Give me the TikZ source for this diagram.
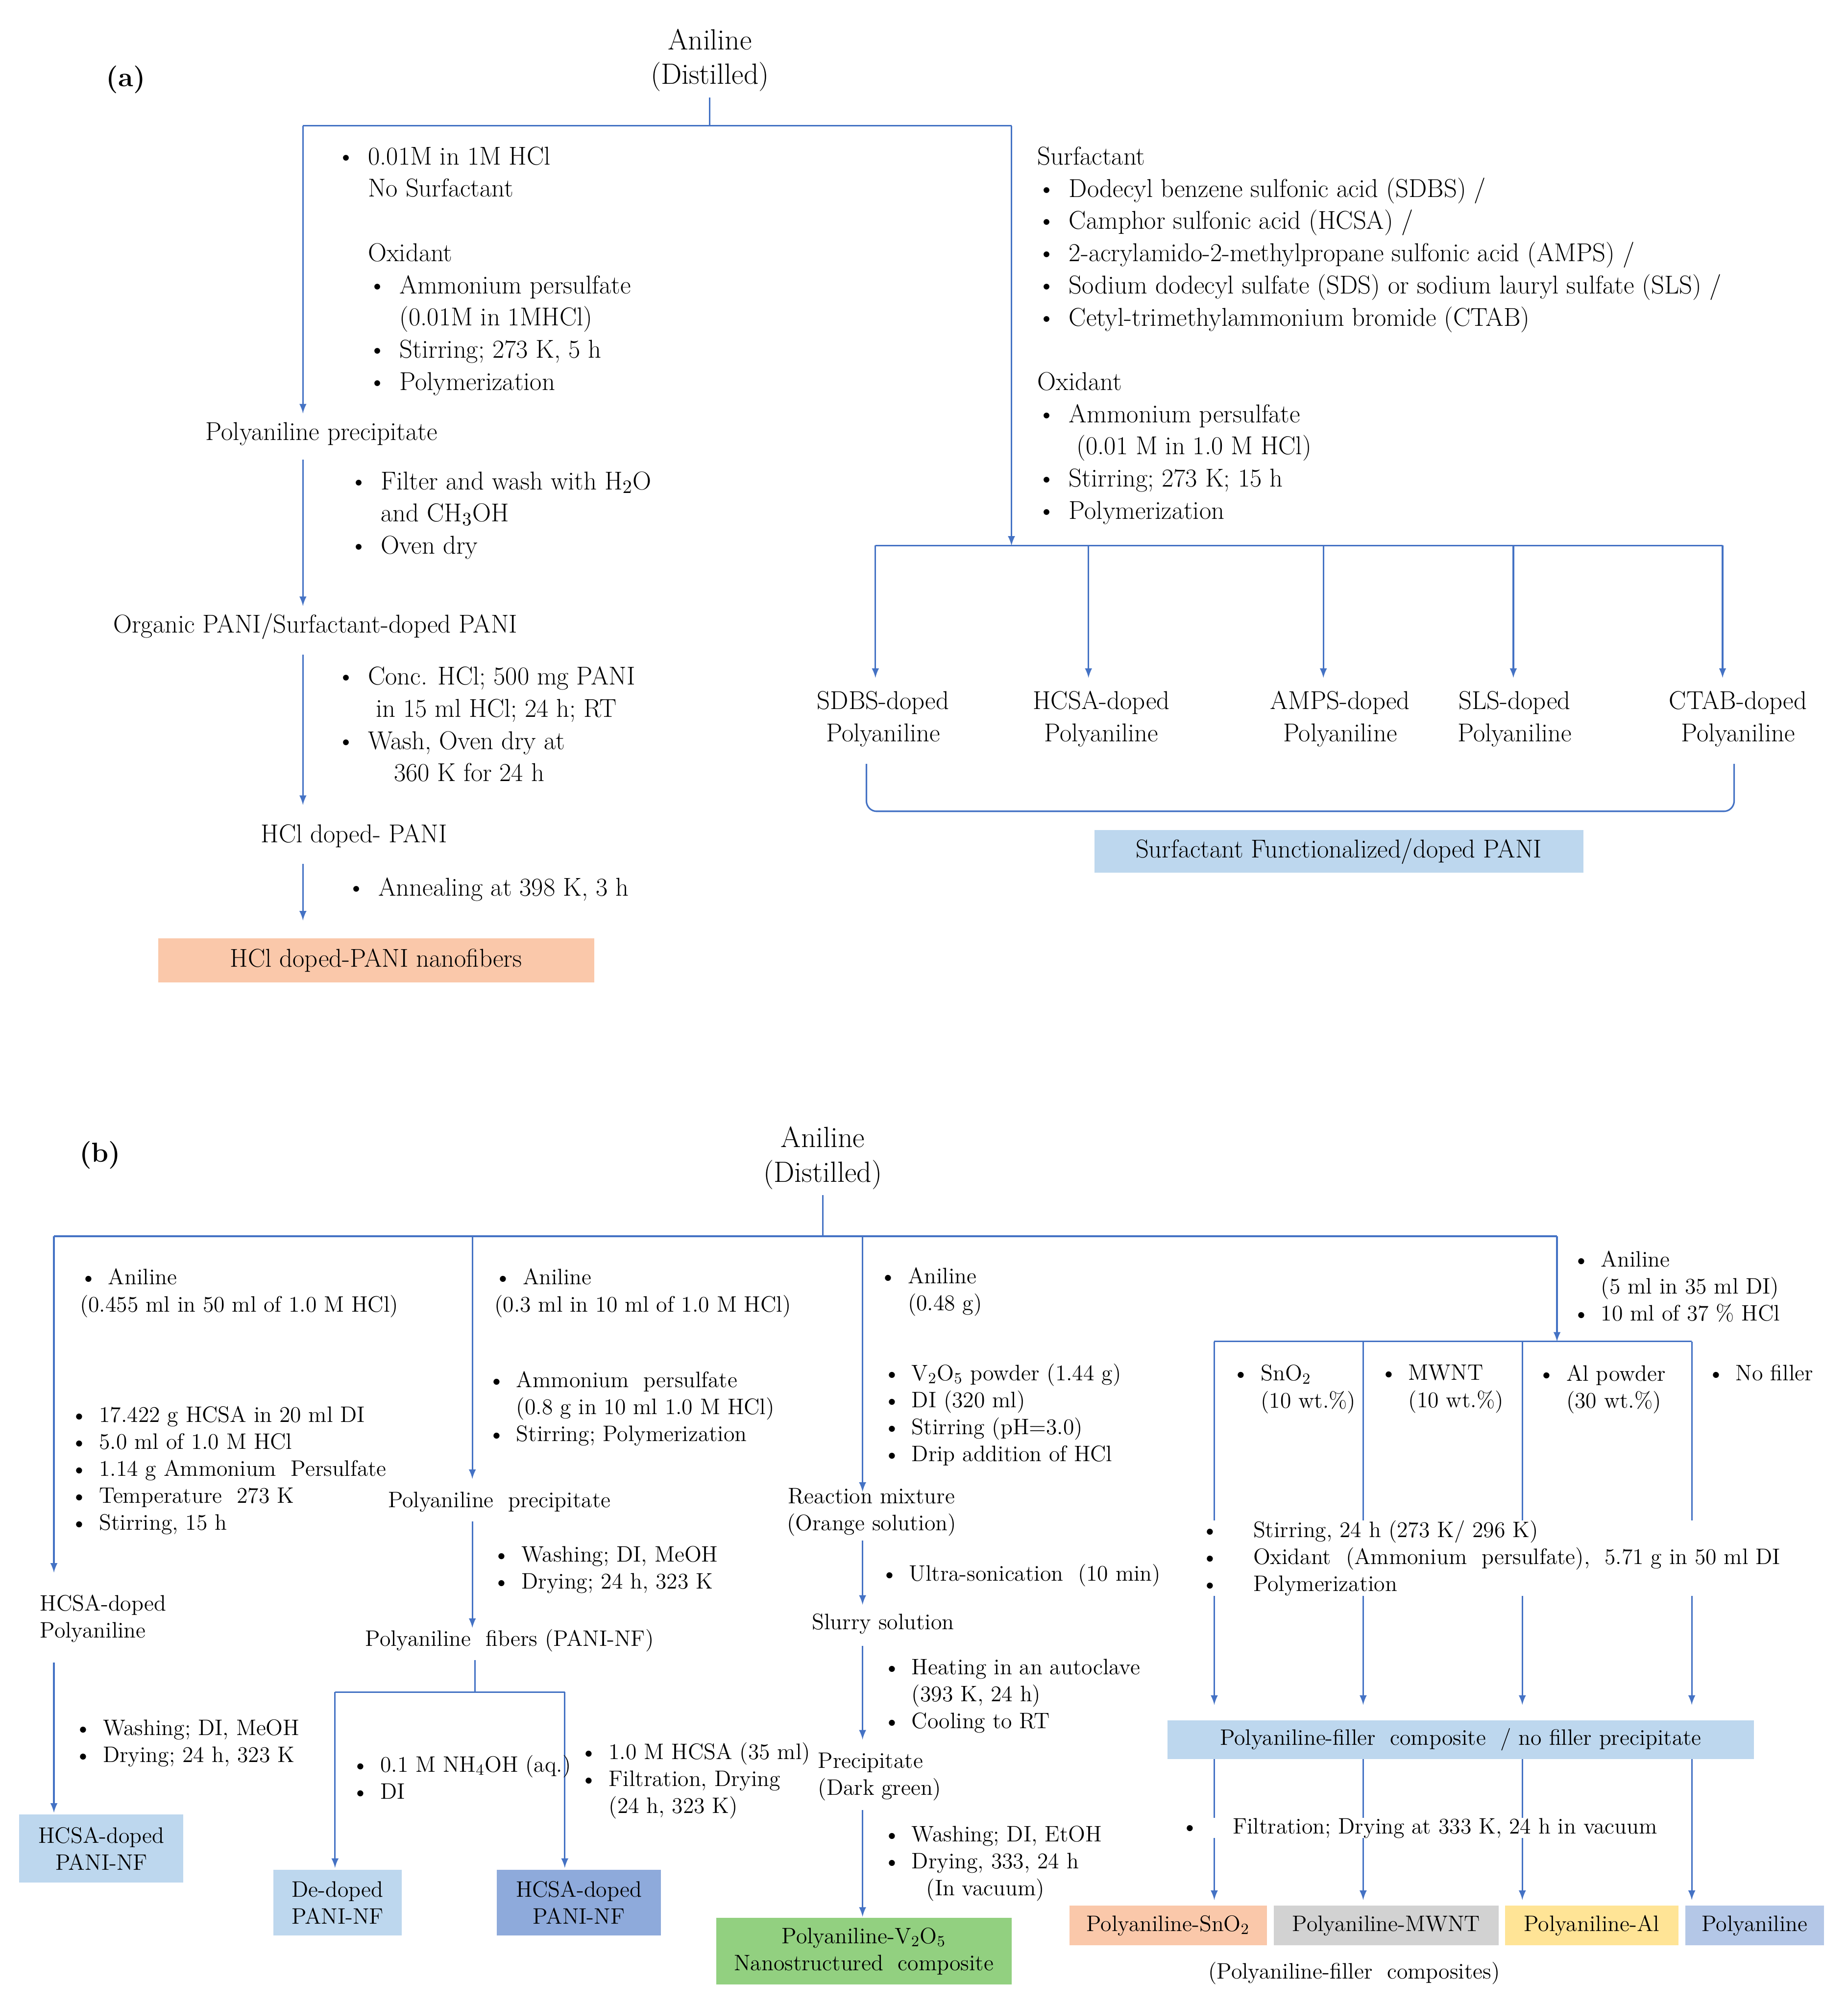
\documentclass[tikz,border=0pt]{standalone}
\usepackage{tikz}
\usetikzlibrary{positioning}
\definecolor{lnblue}{RGB}{68,114,196}
\definecolor{bxorange}{RGB}{250,200,170}
\definecolor{bxlblue}{RGB}{189,215,238}
\definecolor{bxmblue}{RGB}{142,170,219}
\definecolor{bxgreen}{RGB}{146,208,128}
\definecolor{bxgray}{RGB}{210,210,210}
\definecolor{bxyellow}{RGB}{255,228,150}
\definecolor{bxpblue}{RGB}{180,199,231}
\newcommand{\bl}{\textbullet\enspace}
\newcommand{\ind}{\hphantom{\textbullet\enspace}}
\tikzset{
  ln/.style={lnblue, line width=0.9pt},
  arr/.style={ln, -latex},
  ta/.style={anchor=north west, inner sep=0pt, align=left, font=\fontsize{15}{18.7}\selectfont},
  tb/.style={anchor=north west, inner sep=0pt, align=left, font=\fontsize{13}{15.7}\selectfont},
  box/.style={inner sep=0pt, align=center, font=\fontsize{13}{15.7}\selectfont},
}
\begin{document}
\begin{tikzpicture}[x=0.0262cm, y=-0.0262cm]
\useasboundingbox (0,0) rectangle (1439.7,1563.4);

% ---------------- (a)
\node[font=\bfseries\fontsize{16}{19}\selectfont] (laba) at (98,62) {(a)};
\node[align=center, font=\fontsize{17}{20}\selectfont] (anA) at (553,47) {Aniline\\(Distilled)};
\coordinate (jA) at (553,98);
\coordinate (jAl) at (236,98);
\coordinate (jAr) at (788,98);
\draw[ln] (anA.south) -- (jA);
\draw[ln] (jAl) -- (jAr);

\node[ta] (stepA1) at (262,114) {\bl 0.01M in 1M HCl\\
  \ind No Surfactant\\[18.7pt]
  \ind Oxidant\\
  \ind\bl Ammonium persulfate\\
  \ind\ind(0.01M in 1MHCl)\\
  \ind\bl Stirring; 273 K, 5 h\\
  \ind\bl Polymerization};
\node[ta, anchor=west] (ppA) at (160,338) {Polyaniline precipitate};
\draw[arr] (jAl) -- (236,322);
\node[ta] (stepA2) at (272,367) {\bl Filter and wash with H$_2$O\\
  \ind and CH$_3$OH\\ \bl Oven dry};
\coordinate (a2s) at (236,358);
\draw[arr] (a2s) -- (236,472);
\node[ta, anchor=west] (orgA) at (88,488) {Organic PANI/Surfactant-doped PANI};
\node[ta] (stepA3) at (262,519) {\bl Conc. HCl; 500 mg PANI\\
  \ind\ in 15 ml HCl; 24 h; RT\\
  \bl Wash, Oven dry at\\
  \ind\quad 360 K for 24 h};
\draw[arr] (236,510) -- (236,627);
\node[ta, anchor=west] (hclA) at (203,651) {HCl doped- PANI};
\draw[arr] (236,673) -- (236,717);
\node[ta, anchor=west] (annA) at (270,693) {\bl Annealing at 398 K, 3 h};
\node[box, fill=bxorange, minimum width=340\pgflinewidth, font=\fontsize{15}{18}\selectfont,
  minimum width=8.9cm, minimum height=0.9cm] (nfA) at (293,748) {HCl doped-PANI nanofibers};

\node[ta] (surfA) at (808,114) {Surfactant\\
  \bl Dodecyl benzene sulfonic acid (SDBS) /\\
  \bl Camphor sulfonic acid (HCSA) /\\
  \bl 2-acrylamido-2-methylpropane sulfonic acid (AMPS) /\\
  \bl Sodium dodecyl sulfate (SDS) or sodium lauryl sulfate (SLS) /\\
  \bl Cetyl-trimethylammonium bromide (CTAB)\\[18.7pt]
  Oxidant\\
  \bl Ammonium persulfate\\
  \ind\ (0.01 M in 1.0 M HCl)\\
  \bl Stirring; 273 K; 15 h\\
  \bl Polymerization};
\coordinate (jB) at (788,425);
\draw[arr] (jAr) -- (jB);
\draw[ln] (682,425) -- (1342,425);
\foreach \x/\lx/\nm in {682/688/SDBS, 848/858/HCSA, 1031/1044/AMPS, 1179/1180/SLS, 1342/1354/CTAB}{
  \node[ta, anchor=center, align=center] (d\nm) at (\lx,560) {\nm-doped\\Polyaniline};
  \draw[arr] (\x,425) -- (\x,528);
}
\draw[ln, rounded corners=6pt] (675,595) -- (675,632) -- (1351,632) -- (1351,595);
\node[box, fill=bxlblue, font=\fontsize{15}{18}\selectfont, minimum width=9.98cm, minimum height=0.87cm]
  (sfA) at (1043,663) {Surfactant Functionalized/doped PANI};

% ---------------- (b)
\node[font=\bfseries\fontsize{16}{19}\selectfont] (labb) at (78,900) {(b)};
\node[align=center, font=\fontsize{17}{20}\selectfont] (anB) at (641,902) {Aniline\\(Distilled)};
\coordinate (jC) at (641,963);
\draw[ln] (anB.south) -- (jC);
\draw[ln] (42,963) -- (1213,963);

% column 1
\node[tb] (c1a) at (62,988) {\bl Aniline\\(0.455 ml in 50 ml of 1.0 M HCl)};
\draw[arr] (42,963) -- (42,1225);
\node[tb] (c1b) at (55,1095) {\bl 17.422 g HCSA in 20 ml DI\\
  \bl 5.0 ml of 1.0 M HCl\\
  \bl 1.14 g Ammonium\ \ Persulfate\\
  \bl Temperature\ \ 273 K\\
  \bl Stirring, 15 h};
\node[tb] (c1c) at (31,1242) {HCSA-doped\\Polyaniline};
\draw[arr] (42,1295) -- (42,1412);
\node[tb] (c1d) at (58,1339) {\bl Washing; DI, MeOH\\ \bl Drying; 24 h, 323 K};
\node[box, fill=bxlblue, minimum width=3.35cm, minimum height=1.39cm] (c1e) at (79,1440) {HCSA-doped\\PANI-NF};

% column 2
\node[tb] (c2a) at (385,988) {\bl Aniline\\(0.3 ml in 10 ml of 1.0 M HCl)};
\draw[arr] (368,963) -- (368,1152);
\node[tb] (c2b) at (380,1068) {\bl Ammonium\ \ persulfate\\
  \ind(0.8 g in 10 ml 1.0 M HCl)\\ \bl Stirring; Polymerization};
\node[tb, anchor=center] (c2c) at (389,1170) {Polyaniline\ \ precipitate};
\draw[arr] (368,1185) -- (368,1268);
\node[tb] (c2d) at (384,1204) {\bl Washing; DI, MeOH\\ \bl Drying; 24 h, 323 K};
\node[tb, anchor=center] (c2e) at (397,1278) {Polyaniline\ \ fibers (PANI-NF)};
\coordinate (jD) at (370,1318);
\draw[ln] (370,1293) -- (jD);
\draw[ln] (261,1318) -- (440,1318);
\draw[arr] (261,1318) -- (261,1455);
\draw[arr] (440,1318) -- (440,1455);
\node[tb] (c2f) at (274,1367) {\bl 0.1 M NH$_4$OH (aq.)\\ \bl DI};
\node[tb] (c2g) at (452,1357) {\bl 1.0 M HCSA (35 ml)\\ \bl Filtration, Drying\\ \ind(24 h, 323 K)};
\node[box, fill=bxlblue, minimum width=2.62cm, minimum height=1.34cm] (c2h) at (263,1482) {De-doped\\PANI-NF};
\node[box, fill=bxmblue, minimum width=3.35cm, minimum height=1.34cm] (c2i) at (451,1482) {HCSA-doped\\PANI-NF};

% column 3
\node[tb] (c3a) at (685,987) {\bl Aniline\\ \ind(0.48 g)};
\draw[arr] (672,963) -- (672,1162);
\node[tb] (c3b) at (688,1062) {\bl V$_2$O$_5$ powder\ (1.44 g)\\
  \bl DI (320 ml)\\ \bl Stirring\ (pH=3.0)\\ \bl Drip addition\ of HCl};
\node[tb, anchor=center, align=center] (c3c) at (679,1178) {Reaction mixture\\(Orange solution)};
\draw[arr] (672,1200) -- (672,1250);
\node[tb, anchor=west] (c3d) at (686,1227) {\bl Ultra-sonication\ \ (10 min)};
\node[tb, anchor=center] (c3e) at (688,1265) {Slurry solution};
\draw[arr] (672,1282) -- (672,1355);
\node[tb] (c3f) at (688,1292) {\bl Heating in an autoclave\\ \ind(393 K, 24 h)\\ \bl Cooling to RT};
\node[tb] (c3g) at (637,1365) {Precipitate\\(Dark green)};
\draw[arr] (672,1410) -- (672,1493);
\node[tb] (c3h) at (688,1422) {\bl Washing; DI, EtOH\\ \bl Drying, 333, 24 h\\ \ind\ \ (In vacuum)};
\node[box, fill=bxgreen, minimum width=6.03cm, minimum height=1.36cm] (c3i) at (673,1520) {Polyaniline-V$_2$O$_5$\\Nanostructured\ \ composite};

% column 4
\node[tb] (c4a) at (1225,974) {\bl Aniline\\ \ind(5 ml in 35 ml DI)\\ \bl 10 ml of 37 \% HCl};
\draw[arr] (1213,963) -- (1213,1045);
\draw[ln] (946,1045) -- (1318,1045);
\foreach \x in {946,1062,1186,1318}{
  \draw[arr] (\x,1045) -- (\x,1328);
  \draw[arr] (\x,1370) -- (\x,1480);
}
\node[tb, fill=white] (c4b) at (960,1063) {\bl SnO$_2$\\ \ind(10 wt.\%)};
\node[tb, fill=white] (c4c) at (1075,1063) {\bl MWNT\\ \ind(10 wt.\%)};
\node[tb, fill=white] (c4d) at (1198,1063) {\bl Al powder\\ \ind(30 wt.\%)};
\node[tb, fill=white] (c4e) at (1330,1063) {\bl No filler};
\node[tb, fill=white] (c4f) at (936,1184) {\textbullet\hspace{20pt}Stirring, 24 h (273 K/ 296 K)\\
  \textbullet\hspace{20pt}Oxidant\ \ (Ammonium\ \ persulfate),\ \ 5.71 g in 50 ml DI\\
  \textbullet\hspace{20pt}Polymerization};
\node[box, fill=bxlblue, minimum width=11.97cm, minimum height=0.79cm] (c4g) at (1138,1355) {Polyaniline-filler\ \ composite\ \ / no filler\ precipitate};
\node[tb, fill=white, anchor=west] (c4h) at (920,1424) {\textbullet\hspace{20pt}Filtration;\ Drying at 333 K, 24 h in vacuum};
\node[box, fill=bxorange, minimum width=4.03cm, minimum height=0.81cm] (c4i) at (910,1500) {Polyaniline-SnO$_2$};
\node[box, fill=bxgray, minimum width=4.59cm, minimum height=0.81cm] (c4j) at (1080,1500) {Polyaniline-MWNT};
\node[box, fill=bxyellow, minimum width=3.54cm, minimum height=0.81cm] (c4k) at (1240,1500) {Polyaniline-Al};
\node[box, fill=bxpblue, minimum width=2.83cm, minimum height=0.81cm] (c4l) at (1367,1500) {Polyaniline};
\node[tb, anchor=center] (c4m) at (1055,1537) {(Polyaniline-filler\ \ composites)};
\end{tikzpicture}
\end{document}
